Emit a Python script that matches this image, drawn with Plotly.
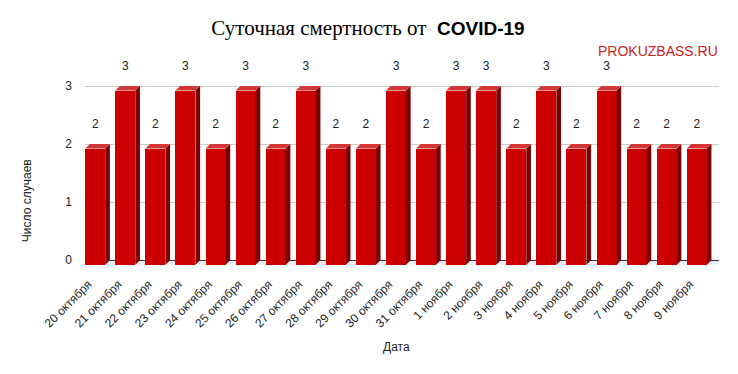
import plotly.graph_objects as go

dates = ["20 октября", "21 октября", "22 октября", "23 октября", "24 октября", "25 октября",
         "26 октября", "27 октября", "28 октября", "29 октября", "30 октября", "31 октября",
         "1 ноября", "2 ноября", "3 ноября", "4 ноября", "5 ноября", "6 ноября",
         "7 ноября", "8 ноября", "9 ноября"]
deaths = [2, 3, 2, 3, 2, 3, 2, 3, 2, 2, 3, 2, 3, 3, 2, 3, 2, 3, 2, 2, 2]
y_ticks = [0, 1, 2, 3]

W = 0.665   # front face width (category units)
DX = 0.155  # depth offset x
DY = 0.078  # depth offset y
FRONT = "#cc0000"
SIDE = "#7d0000"
TOP = "#d63535"

xs = list(range(len(dates)))
fig = go.Figure()

# front faces
fig.add_trace(go.Bar(x=xs, y=deaths, base=[-DY] * len(deaths),
                     width=W, marker=dict(color=FRONT, line=dict(width=0)),
                     hoverinfo="skip", showlegend=False))

# side and top faces
for i, v in zip(xs, deaths):
    r = i + W / 2
    l = i - W / 2
    fig.add_trace(go.Scatter(
        x=[r, r + DX, r + DX, r, r], y=[-DY, 0, v, v - DY, -DY],
        fill="toself", fillcolor=SIDE, line=dict(width=0), mode="lines",
        hoverinfo="skip", showlegend=False))
    fig.add_trace(go.Scatter(
        x=[l, r, r + DX, l + DX, l], y=[v - DY, v - DY, v, v, v - DY],
        fill="toself", fillcolor=TOP, line=dict(width=0), mode="lines",
        hoverinfo="skip", showlegend=False))

# value labels
fig.add_trace(go.Scatter(
    x=xs, y=[v + 0.33 for v in deaths], mode="text", text=[str(v) for v in deaths],
    textposition="middle center",
    textfont=dict(family="Arial, Liberation Sans", size=12, color="#222"),
    hoverinfo="skip", showlegend=False, cliponaxis=False))

n = len(dates)
fig.update_layout(
    width=738, height=374,
    margin=dict(l=85, r=19, t=57, b=108),
    paper_bgcolor="white", plot_bgcolor="white",
    font=dict(family="Arial, Liberation Sans", size=12, color="#222"),
    title=dict(
        text="Суточная смертность от&nbsp;&nbsp;"
             "<span style='font-family:Liberation Sans, Arial, sans-serif;font-weight:bold;font-size:19px'>COVID-19</span>",
        x=(368 - 85) / 634, xref="paper", xanchor="center", y=0.925, yanchor="middle",
        font=dict(family="Liberation Serif, Times New Roman, serif", size=21, color="#000")),
    xaxis=dict(range=[-0.34, n - 1 + 0.74], tickvals=xs, ticktext=dates, tickangle=-45,
               showgrid=False, zeroline=False, showline=False, ticks="",
               ticklabelstandoff=8, ticklabelshift=-7,
               automargin=False, tickfont=dict(size=12, color="#222")),
    yaxis=dict(range=[-0.1, 3.5], tickvals=y_ticks, showgrid=True, gridcolor="#cccccc",
               zeroline=True, zerolinecolor="#333", zerolinewidth=1, showline=False,
               ticks="", ticklabelstandoff=12, automargin=False,
               tickfont=dict(size=12, color="#222")),
    shapes=[dict(type="path", xref="x", yref="y", layer="below",
                 path=f"M -0.5,{-DY} L {n - 1 + 0.6},{-DY} L {n - 1 + 0.6 + DX},0 L {-0.5 + DX},0 Z",
                 fillcolor="#e8eef3", line=dict(width=0))],
    annotations=[
        dict(text="PROKUZBASS.RU", xref="paper", yref="paper", x=1.0016, y=1.03,
             xanchor="right", yanchor="middle", showarrow=False,
             font=dict(family="Arial, Liberation Sans", size=14, color="#cc2222")),
        dict(text="Дата", xref="paper", yref="paper", x=(396 - 85) / 634, y=-(347 - 265.8) / 208.8,
             xanchor="center", yanchor="middle", showarrow=False,
             font=dict(size=12, color="#222")),
        dict(text="Число случаев", xref="paper", yref="paper", x=(27 - 85) / 634,
             y=(265.8 - 201) / 208.8, textangle=-90,
             xanchor="center", yanchor="middle", showarrow=False,
             font=dict(size=12, color="#222")),
    ],
    bargap=0,
)

fig.write_html("out.html", config={"displayModeBar": False},
               post_script="document.body.style.margin='0';document.body.style.padding='0';")
